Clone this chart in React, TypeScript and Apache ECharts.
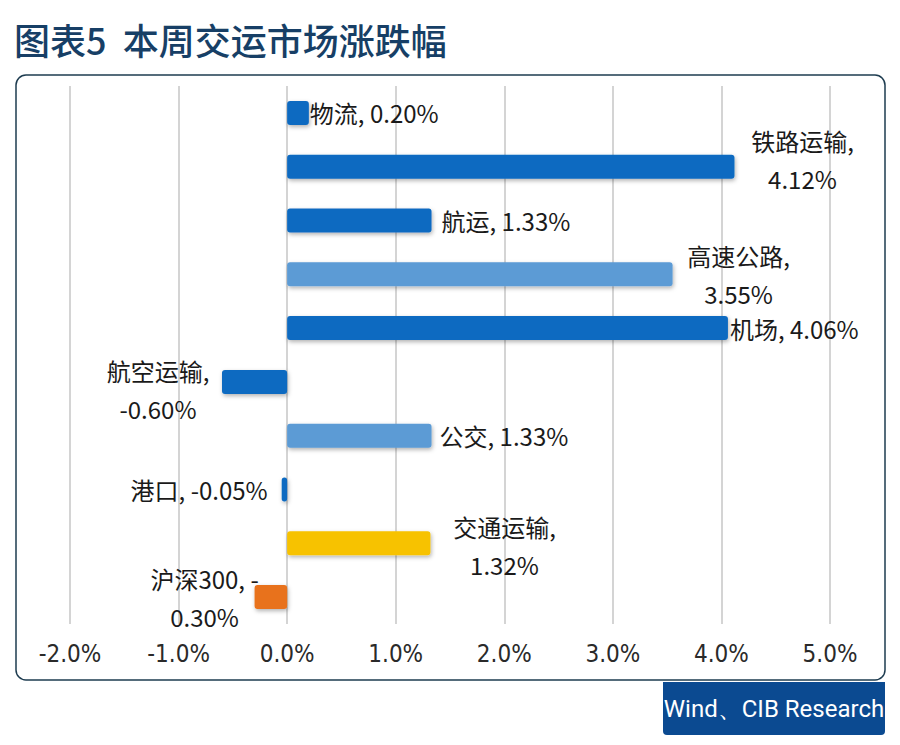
import React, { useEffect, useRef } from "react";
import * as echarts from "echarts";

const categories = ["物流", "铁路运输", "航运", "高速公路", "机场", "航空运输", "公交", "港口", "交通运输", "沪深300"];
const values = [0.2, 4.12, 1.33, 3.55, 4.06, -0.6, 1.33, -0.05, 1.32, -0.3];
const barColors = ["#0e6bc1", "#0e6bc1", "#0e6bc1", "#5b9bd5", "#0e6bc1", "#0e6bc1", "#5b9bd5", "#0e6bc1", "#f7c200", "#e8721c"];
const labelTexts = [
  "物流, 0.20%",
  "铁路运输,\n4.12%",
  "航运, 1.33%",
  "高速公路,\n3.55%",
  "机场, 4.06%",
  "航空运输,\n-0.60%",
  "公交, 1.33%",
  "港口, -0.05%",
  "交通运输,\n1.32%",
  "沪深300, -\n0.30%",
];
const xTicks = [-2, -1, 0, 1, 2, 3, 4, 5];

// label layout (style, not data)
const labelLayout: any[] = [
  { position: "right", distance: 1, align: "left", offset: [0, 0] },
  { position: "right", distance: 0, align: "center", offset: [68, -7] },
  { position: "right", distance: 10, align: "left", offset: [0, 0] },
  { position: "right", distance: 0, align: "center", offset: [66, 0] },
  { position: "right", distance: 2, align: "left", offset: [0, 0] },
  { position: "left", distance: 0, align: "center", offset: [-64, 8] },
  { position: "right", distance: 8, align: "left", offset: [0, 0] },
  { position: "left", distance: 14, align: "right", offset: [0, 0] },
  { position: "right", distance: 0, align: "center", offset: [74, 2] },
  { position: "left", distance: 0, align: "center", offset: [-50, 0] },
];

export default function App() {
  const ref = useRef<HTMLDivElement>(null);
  useEffect(() => {
    const chart = echarts.init(ref.current!, null, { renderer: "svg" });
    const data = values.map((v, i) => ({
      value: v,
      itemStyle: {
        color: barColors[i],
        borderRadius: 3,
        shadowBlur: 4,
        shadowOffsetY: 2,
        shadowOffsetX: 1,
        shadowColor: "rgba(0,0,0,0.3)",
      },
      label: {
        show: true,
        formatter: labelTexts[i],
        position: labelLayout[i].position,
        distance: labelLayout[i].distance,
        align: labelLayout[i].align,
        verticalAlign: "middle",
        offset: labelLayout[i].offset,
        fontSize: 24,
        lineHeight: 38,
        color: "#1a1a1a",
        fontFamily: "Noto Sans CJK SC",
      },
    }));
    chart.setOption({
      animation: false,
      backgroundColor: "#ffffff",
      grid: { left: 70, right: 70, top: 86, bottom: 121, containLabel: false },
      xAxis: {
        type: "value",
        min: xTicks[0],
        max: xTicks[xTicks.length - 1],
        interval: 1,
        axisLine: { show: false },
        axisTick: { show: false },
        splitLine: { show: true, lineStyle: { color: "#c6c6c6", width: 1.5 } },
        axisLabel: {
          formatter: (v: number) => v.toFixed(1) + "%",
          fontSize: 24,
          color: "#2a2a2a",
          margin: 18,
          fontFamily: "DejaVu Sans Condensed, Liberation Sans Narrow, sans-serif",
        },
      },
      yAxis: {
        type: "category",
        data: categories,
        inverse: true,
        axisLine: { show: false },
        axisTick: { show: false },
        axisLabel: { show: false },
        splitLine: { show: false },
      },
      series: [
        {
          type: "bar",
          data,
          barWidth: 24,
        },
      ],
      graphic: [
        {
          type: "text",
          left: 14,
          top: 21,
          style: {
            text: "图表5  本周交运市场涨跌幅",
            fontSize: 36,
            fontWeight: 500,
            fill: "#173f66",
            fontFamily: "Noto Sans CJK SC",
          },
        },
        {
          type: "rect",
          shape: { x: 16, y: 75, width: 869, height: 605, r: 10 },
          style: { fill: "none", stroke: "#1e3c50", lineWidth: 1.5 },
          z: -1,
        },
        {
          type: "rect",
          shape: { x: 663, y: 682, width: 222, height: 53, r: [0, 0, 4, 4] },
          style: { fill: "#0b4a91" },
        },
        {
          type: "text",
          x: 774,
          y: 709,
          style: {
            text: "Wind、CIB Research",
            fontSize: 24,
            fill: "#ffffff",
            align: "center",
            verticalAlign: "middle",
            fontFamily: "Liberation Sans Narrow, Roboto, sans-serif",
          },
        },
      ],
    });
    return () => chart.dispose();
  }, []);
  return (
    <div
      ref={ref}
      style={{ position: "absolute", left: 0, top: 0, width: 900, height: 745 }}
    />
  );
}
